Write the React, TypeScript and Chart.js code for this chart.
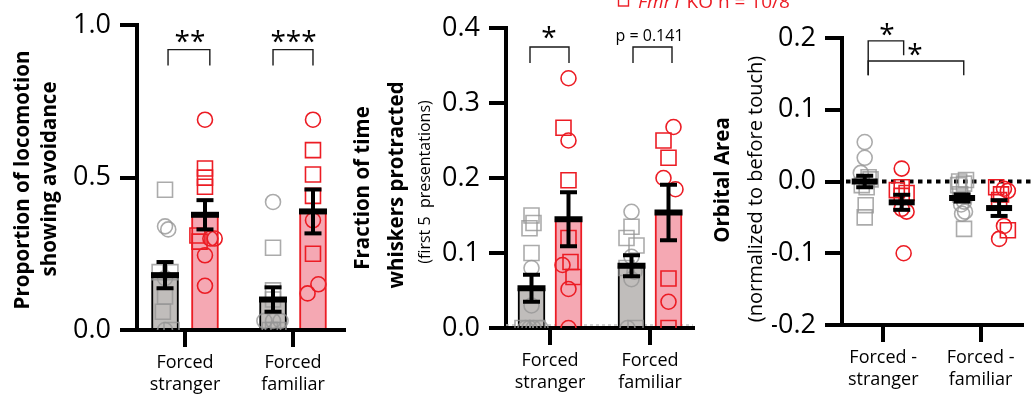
import React, { useEffect, useRef } from 'react';
import { Chart, registerables } from 'chart.js';

Chart.register(...registerables);

const W = 1034;
const H = 394;
const FONT = "'Open Sans', 'Noto Sans', 'DejaVu Sans', sans-serif";
const RED = '#ec1c24';
const GRAY_MARK = 'rgba(150,150,150,0.8)';
const GRAY_BAR = '#c0bdbb';
const PINK_BAR = '#f5a8b3';

// ---------------- categories & ticks ----------------
const CATEGORIES = [['Forced', 'stranger'], ['Forced', 'familiar']];
const CATEGORIES_ORBITAL = [['Forced -', 'stranger'], ['Forced -', 'familiar']];
const A_Y_TICKS = [0, 0.5, 1.0];
const B_Y_TICKS = [0, 0.1, 0.2, 0.3, 0.4];
const C_Y_TICKS = [-0.2, -0.1, 0, 0.1, 0.2];
const LEGEND_ITALIC = 'Fmr1';
const LEGEND_REST = ' KO n = 10/8';

// ---------------- Panel A: proportion of locomotion showing avoidance ----------------
const A_WT_MEAN = [0.18, 0.1];
const A_WT_SEM = [0.043, 0.04];
const A_KO_MEAN = [0.378, 0.389];
const A_KO_SEM = [0.048, 0.072];
const A_WT_STRANGER = [0.46, 0.34, 0.33, 0.19, 0.19, 0.17, 0.11, 0.06, 0.0, 0.0];
const A_WT_STRANGER_SHAPE = 'sccsscsscs';
const A_KO_STRANGER = [0.69, 0.53, 0.5, 0.47, 0.31, 0.29, 0.3, 0.3, 0.245, 0.145];
const A_KO_STRANGER_SHAPE = 'cssssscccc';
const A_WT_FAMILIAR = [0.42, 0.27, 0.13, 0.1, 0.03, 0.03, 0.03, 0.0, 0.0, 0.0];
const A_WT_FAMILIAR_SHAPE = 'cssscccsss';
const A_KO_FAMILIAR = [0.69, 0.59, 0.51, 0.44, 0.36, 0.25, 0.15, 0.12];
const A_KO_FAMILIAR_SHAPE = 'cssscscc';

// ---------------- Panel B: fraction of time whiskers protracted ----------------
const B_WT_MEAN = [0.053, 0.083];
const B_WT_SEM = [0.018, 0.014];
const B_KO_MEAN = [0.145, 0.154];
const B_KO_SEM = [0.036, 0.037];
const B_WT_STRANGER = [0.15, 0.14, 0.133, 0.1, 0.08, 0.03, 0, 0, 0, 0, 0, 0];
const B_WT_STRANGER_SHAPE = 'ssssccscccsc';
const B_KO_STRANGER = [0.333, 0.267, 0.25, 0.197, 0.12, 0.088, 0.084, 0.068, 0.052, 0];
const B_KO_STRANGER_SHAPE = 'cscssscscc';
const B_WT_FAMILIAR = [0.155, 0.135, 0.12, 0.11, 0.095, 0.08, 0.075, 0.065, 0, 0];
const B_WT_FAMILIAR_SHAPE = 'cssscscccs';
const B_KO_FAMILIAR = [0.268, 0.25, 0.227, 0.2, 0.185, 0.066, 0.035, 0.0];
const B_KO_FAMILIAR_SHAPE = 'cssccscs';

// ---------------- Panel C: orbital area ----------------
const C_WT_MEAN = [0.0, -0.023];
const C_WT_SEM = [0.008, 0.005];
const C_KO_MEAN = [-0.029, -0.037];
const C_KO_SEM = [0.0105, 0.011];
const C_WT_STRANGER = [0.055, 0.033, 0.012, 0.006, 0.003, -0.005, -0.008, -0.033, -0.05];
const C_WT_STRANGER_SHAPE = 'cccssssss';
const C_KO_STRANGER = [0.018, -0.008, -0.012, -0.016, -0.02, -0.038, -0.042, -0.1];
const C_KO_STRANGER_SHAPE = 'cssssccc';
const C_WT_FAMILIAR = [0.002, 0.0, -0.003, -0.005, -0.018, -0.028, -0.032, -0.042, -0.045, -0.066];
const C_WT_FAMILIAR_SHAPE = 'sssssccccs';
const C_KO_FAMILIAR = [-0.008, -0.01, -0.013, -0.018, -0.026, -0.062, -0.068, -0.08];
const C_KO_FAMILIAR_SHAPE = 'sccsscsc';

// ---------------- layout (horizontal scatter of markers, in category units) ----------------
const A_JITTER = {
  wtS: [0, 0, 0.03, -0.05, 0.05, 0, 0, -0.02, 0, 0.06],
  koS: [0, 0, 0, 0, -0.07, -0.05, 0.05, 0.09, 0, 0],
  wtF: [0, 0, 0, 0, -0.08, 0, 0.07, 0, 0.05, -0.03],
  koF: [0, 0, 0, 0, 0, 0, 0.05, -0.05],
};
const B_JITTER = {
  wtS: [0, 0.02, -0.02, 0, 0, 0, -0.09, -0.06, -0.02, 0.02, 0.06, 0.09],
  koS: [0, -0.05, 0, 0, 0, 0.02, -0.06, 0.05, 0, 0],
  wtF: [0, 0, -0.05, 0.05, 0, -0.05, 0.03, 0, -0.04, 0.04],
  koF: [0.05, -0.05, 0, -0.05, 0.07, 0, 0, 0],
};
const C_JITTER = {
  wtS: [0, 0, -0.04, 0.04, 0.06, -0.03, 0.02, 0.01, 0],
  koS: [0, 0, -0.05, 0.05, 0, 0, 0.05, 0.02],
  wtF: [0.04, -0.03, 0.02, -0.04, -0.02, 0.02, -0.01, 0.03, 0, 0.02],
  koF: [-0.03, 0.05, 0.09, 0.02, 0, 0.05, 0.09, 0],
};

const Y_AXIS_W = 70;

type Group = { values: number[]; shapes: string; dx: number[] };
type Label = { text: string; x: number; y: number; size: number; star: boolean };
type Title = { text: string; x: number; y: number; font: string };

interface PanelSpec {
  id: string;
  area: { left: number; right: number; top: number; bottom: number };
  centers: [number, number];
  yMin: number;
  yMax: number;
  yTicks: number[];
  categories: string[][];
  wtMean: number[];
  wtSem: number[];
  koMean: number[];
  koSem: number[];
  wt: Group[];
  ko: Group[];
  bars: boolean;
  side: number;
  meanW: number;
  brackets: number[][];
  labels: Label[];
  titles: Title[];
  zero: 'none' | 'gray' | 'black';
  legend: boolean;
}

const PANELS: PanelSpec[] = [
  {
    id: 'A',
    area: { left: 137, right: 344, top: 20, bottom: 330 },
    centers: [185, 293],
    yMin: 0,
    yMax: 1,
    yTicks: A_Y_TICKS,
    categories: CATEGORIES,
    wtMean: A_WT_MEAN,
    wtSem: A_WT_SEM,
    koMean: A_KO_MEAN,
    koSem: A_KO_SEM,
    wt: [
      { values: A_WT_STRANGER, shapes: A_WT_STRANGER_SHAPE, dx: A_JITTER.wtS },
      { values: A_WT_FAMILIAR, shapes: A_WT_FAMILIAR_SHAPE, dx: A_JITTER.wtF },
    ],
    ko: [
      { values: A_KO_STRANGER, shapes: A_KO_STRANGER_SHAPE, dx: A_JITTER.koS },
      { values: A_KO_FAMILIAR, shapes: A_KO_FAMILIAR_SHAPE, dx: A_JITTER.koF },
    ],
    bars: true,
    side: 0.185,
    meanW: 28,
    brackets: [
      [-0.157, 0.23, 0.92, 0.868, 0.868],
      [0.815, 1.185, 0.92, 0.868, 0.868],
    ],
    labels: [
      { text: '**', x: 0.046, y: 0.962, size: 28, star: true },
      { text: '***', x: 1.005, y: 0.962, size: 28, star: true },
    ],
    titles: [
      { text: 'Proportion of locomotion', x: 23, y: 180, font: `bold 20.5px ${FONT}` },
      { text: 'showing avoidance', x: 50, y: 179, font: `bold 20.5px ${FONT}` },
    ],
    zero: 'none',
    legend: false,
  },
  {
    id: 'B',
    area: { left: 506, right: 693, top: 28, bottom: 328 },
    centers: [550, 650],
    yMin: 0,
    yMax: 0.4,
    yTicks: B_Y_TICKS,
    categories: CATEGORIES,
    wtMean: B_WT_MEAN,
    wtSem: B_WT_SEM,
    koMean: B_KO_MEAN,
    koSem: B_KO_SEM,
    wt: [
      { values: B_WT_STRANGER, shapes: B_WT_STRANGER_SHAPE, dx: B_JITTER.wtS },
      { values: B_WT_FAMILIAR, shapes: B_WT_FAMILIAR_SHAPE, dx: B_JITTER.wtF },
    ],
    ko: [
      { values: B_KO_STRANGER, shapes: B_KO_STRANGER_SHAPE, dx: B_JITTER.koS },
      { values: B_KO_FAMILIAR, shapes: B_KO_FAMILIAR_SHAPE, dx: B_JITTER.koF },
    ],
    bars: true,
    side: 0.185,
    meanW: 28,
    brackets: [
      [-0.2, 0.19, 0.3747, 0.3533, 0.3533],
      [0.83, 1.22, 0.3747, 0.3533, 0.3533],
    ],
    labels: [
      { text: '*', x: -0.01, y: 0.394, size: 28, star: true },
      { text: 'p = 0.141', x: 0.995, y: 0.3827, size: 16, star: false },
    ],
    titles: [
      { text: 'Fraction of time', x: 363, y: 188, font: `bold 20.5px ${FONT}` },
      { text: 'whiskers protracted', x: 397, y: 185, font: `bold 20.5px ${FONT}` },
      { text: '(first 5  presentations)', x: 425, y: 182, font: `16px ${FONT}` },
    ],
    zero: 'gray',
    legend: true,
  },
  {
    id: 'C',
    area: { left: 842, right: 1034, top: 38, bottom: 325 },
    centers: [886, 990],
    yMin: -0.2,
    yMax: 0.2,
    yTicks: C_Y_TICKS,
    categories: CATEGORIES_ORBITAL,
    wtMean: C_WT_MEAN,
    wtSem: C_WT_SEM,
    koMean: C_KO_MEAN,
    koSem: C_KO_SEM,
    wt: [
      { values: C_WT_STRANGER, shapes: C_WT_STRANGER_SHAPE, dx: C_JITTER.wtS },
      { values: C_WT_FAMILIAR, shapes: C_WT_FAMILIAR_SHAPE, dx: C_JITTER.wtF },
    ],
    ko: [
      { values: C_KO_STRANGER, shapes: C_KO_STRANGER_SHAPE, dx: C_JITTER.koS },
      { values: C_KO_FAMILIAR, shapes: C_KO_FAMILIAR_SHAPE, dx: C_JITTER.koF },
    ],
    bars: false,
    side: 0.19,
    meanW: 26,
    brackets: [
      [-0.154, 0.21, 0.196, 0.148, 0.176],
      [-0.154, 0.827, 0.168, 0.148, 0.148],
    ],
    labels: [
      { text: '*', x: 0.038, y: 0.211, size: 28, star: true },
      { text: '*', x: 0.327, y: 0.183, size: 28, star: true },
    ],
    titles: [
      { text: 'Orbital Area', x: 723, y: 180, font: `bold 20.5px ${FONT}` },
      { text: '(normalized to before touch)', x: 756, y: 189, font: `20px ${FONT}` },
    ],
    zero: 'black',
    legend: false,
  },
];

function line(ctx: CanvasRenderingContext2D, x1: number, y1: number, x2: number, y2: number, w: number) {
  ctx.lineWidth = w;
  ctx.beginPath();
  ctx.moveTo(x1, y1);
  ctx.lineTo(x2, y2);
  ctx.stroke();
}

function overlay(p: PanelSpec) {
  return {
    id: 'overlay' + p.id,
    beforeDatasetsDraw(chart: any) {
      const { ctx, chartArea, scales } = chart;
      const y0 = scales.y.getPixelForValue(0);
      ctx.save();
      if (p.zero === 'gray') {
        ctx.strokeStyle = '#c4c4c4';
        ctx.setLineDash([3, 3]);
        line(ctx, chartArea.left, y0 - 3, chartArea.right, y0 - 3, 1.5);
      } else if (p.zero === 'black') {
        ctx.strokeStyle = '#000';
        ctx.setLineDash([4.5, 4.5]);
        line(ctx, chartArea.left + 4, y0, W, y0, 4);
      }
      ctx.restore();
    },
    afterDatasetsDraw(chart: any) {
      const { ctx, scales } = chart;
      const xs = scales.x;
      const ys = scales.y;
      ctx.save();
      ctx.strokeStyle = '#000';
      ctx.lineCap = 'butt';
      const CAP = 17;
      const drawErr = (means: number[], sems: number[], off: number) => {
        means.forEach((m, i) => {
          const px = xs.getPixelForValue(i + off);
          const pm = ys.getPixelForValue(m);
          const ph = ys.getPixelForValue(m + sems[i]);
          const pl = ys.getPixelForValue(m - sems[i]);
          line(ctx, px, ph, px, pl, 4);
          line(ctx, px - CAP / 2, ph, px + CAP / 2, ph, 4);
          line(ctx, px - CAP / 2, pl, px + CAP / 2, pl, 4);
          line(ctx, px - p.meanW / 2, pm, px + p.meanW / 2, pm, 6);
        });
      };
      drawErr(p.wtMean, p.wtSem, -p.side);
      drawErr(p.koMean, p.koSem, p.side);

      // significance brackets
      ctx.strokeStyle = '#1a1a1a';
      p.brackets.forEach(([x1, x2, top, leg1, leg2]) => {
        const a = xs.getPixelForValue(x1);
        const b = xs.getPixelForValue(x2);
        const t = ys.getPixelForValue(top);
        ctx.lineWidth = 1.4;
        ctx.beginPath();
        ctx.moveTo(a, ys.getPixelForValue(leg1));
        ctx.lineTo(a, t);
        ctx.lineTo(b, t);
        ctx.lineTo(b, ys.getPixelForValue(leg2));
        ctx.stroke();
      });
      ctx.fillStyle = '#000';
      ctx.textAlign = 'center';
      ctx.textBaseline = 'alphabetic';
      p.labels.forEach((l) => {
        ctx.font = `${l.size}px ${FONT}`;
        const px = xs.getPixelForValue(l.x);
        const py = ys.getPixelForValue(l.y);
        ctx.fillText(l.text, px, l.star ? py + 0.5 * l.size : py);
      });
      ctx.restore();
    },
    afterDraw(chart: any) {
      const { ctx } = chart;
      ctx.save();
      ctx.fillStyle = '#000';
      ctx.textAlign = 'center';
      ctx.textBaseline = 'middle';
      p.titles.forEach((t) => {
        ctx.save();
        ctx.translate(t.x, t.y);
        ctx.rotate(-Math.PI / 2);
        ctx.font = t.font;
        ctx.fillText(t.text, 0, 0);
        ctx.restore();
      });
      if (p.legend) {
        ctx.strokeStyle = RED;
        ctx.fillStyle = RED;
        ctx.lineWidth = 1.4;
        ctx.strokeRect(618.5, -5, 10, 11);
        ctx.textAlign = 'left';
        ctx.textBaseline = 'alphabetic';
        ctx.font = `italic 19px ${FONT}`;
        ctx.fillText(LEGEND_ITALIC, 638, 7.5);
        const w1 = ctx.measureText(LEGEND_ITALIC).width;
        ctx.font = `19px ${FONT}`;
        ctx.fillText(LEGEND_REST, 638 + w1, 7.5);
      }
      ctx.restore();
    },
  };
}

function pointDataset(g: Group, cx: number, color: string) {
  return {
    type: 'scatter',
    data: g.values.map((v, k) => ({ x: cx + (g.dx[k] || 0), y: v })),
    pointStyle: g.shapes.split('').map((s) => (s === 's' ? 'rect' : 'circle')),
    pointRadius: g.shapes.split('').map((s) => (s === 's' ? 10.6 : 7.5)),
    pointHoverRadius: g.shapes.split('').map((s) => (s === 's' ? 10.6 : 7.5)),
    pointBorderColor: color,
    borderColor: color,
    pointBackgroundColor: 'rgba(0,0,0,0)',
    backgroundColor: 'rgba(0,0,0,0)',
    pointBorderWidth: 1.6,
    borderWidth: 1.6,
    showLine: false,
    order: 1,
  };
}

function barDataset(means: number[], off: number, fill: string, border: string) {
  return {
    type: 'bar',
    data: means.map((m, i) => ({ x: i + off, y: m })),
    backgroundColor: fill,
    borderColor: border,
    borderWidth: 2,
    grouped: false,
    barPercentage: 1,
    categoryPercentage: 1,
    maxBarThickness: 27,
    order: 3,
  };
}

function buildConfig(p: PanelSpec): any {
  const unit = p.centers[1] - p.centers[0];
  const xMin = -(p.centers[0] - p.area.left) / unit;
  const xMax = (p.area.right - p.centers[0]) / unit;
  const xAxisH = H - p.area.bottom;
  const datasets: any[] = [];
  if (p.bars) {
    datasets.push(barDataset(p.wtMean, -p.side, GRAY_BAR, '#000'));
    datasets.push(barDataset(p.koMean, p.side, PINK_BAR, RED));
  }
  p.wt.forEach((g, i) => datasets.push(pointDataset(g, i - p.side, GRAY_MARK)));
  p.ko.forEach((g, i) => datasets.push(pointDataset(g, i + p.side, RED)));

  const grid = {
    drawOnChartArea: false,
    drawTicks: true,
    tickLength: 17,
    tickWidth: 4,
    tickColor: '#000',
    lineWidth: 4,
    color: '#000',
    offset: false,
  };
  const border = { display: true, color: '#000', width: 4 };

  return {
    type: p.bars ? 'bar' : 'scatter',
    data: { datasets },
    options: {
      responsive: false,
      maintainAspectRatio: false,
      animation: false,
      devicePixelRatio: 1,
      events: [],
      layout: {
        padding: {
          left: p.area.left - Y_AXIS_W,
          right: W - p.area.right,
          top: p.area.top,
          bottom: 0,
        },
      },
      plugins: { legend: { display: false }, tooltip: { enabled: false } },
      scales: {
        x: {
          type: 'linear',
          min: xMin,
          max: xMax,
          offset: false,
          z: 1,
          afterBuildTicks: (s: any) => {
            s.ticks = p.categories.map((_, i) => ({ value: i }));
          },
          afterFit: (s: any) => {
            s.height = xAxisH;
          },
          ticks: {
            callback: (v: number) => p.categories[Math.round(v)] || '',
            font: { family: FONT, size: 18, lineHeight: 1.22 },
            color: '#000',
            padding: 5,
            maxRotation: 0,
            minRotation: 0,
            autoSkip: false,
          },
          grid,
          border,
        },
        y: {
          type: 'linear',
          min: p.yMin,
          max: p.yMax,
          z: 1,
          afterBuildTicks: (s: any) => {
            s.ticks = p.yTicks.map((v) => ({ value: v }));
          },
          afterFit: (s: any) => {
            s.width = Y_AXIS_W;
          },
          ticks: {
            callback: (v: number) => Number(v).toFixed(1),
            font: { family: FONT, size: 27 },
            color: '#000',
            padding: 9,
          },
          grid,
          border,
        },
      },
    },
    plugins: [overlay(p)],
  };
}

function Panel({ spec }: { spec: PanelSpec }) {
  const ref = useRef<HTMLCanvasElement | null>(null);
  useEffect(() => {
    if (!ref.current) return;
    const chart = new Chart(ref.current, buildConfig(spec));
    return () => chart.destroy();
  }, [spec]);
  return (
    <canvas
      ref={ref}
      width={W}
      height={H}
      style={{ position: 'absolute', left: 0, top: 0, width: W, height: H, display: 'block' }}
    />
  );
}

export default function App() {
  return (
    <div style={{ position: 'absolute', left: 0, top: 0, width: W, height: H, background: '#fff', overflow: 'hidden' }}>
      {PANELS.map((p) => (
        <Panel key={p.id} spec={p} />
      ))}
    </div>
  );
}
